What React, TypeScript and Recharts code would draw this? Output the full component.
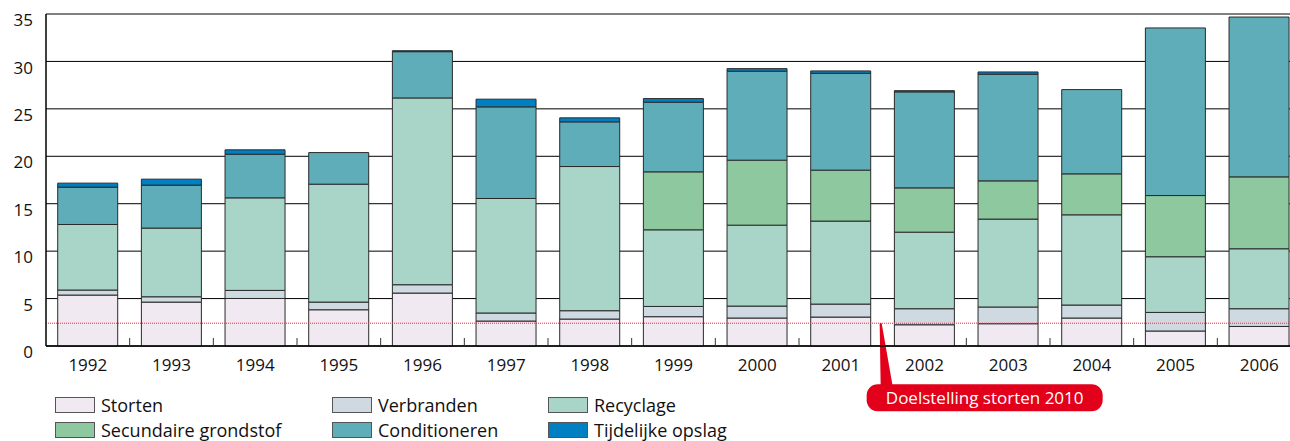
import { BarChart, Bar, XAxis, YAxis, CartesianGrid, ReferenceLine, Legend } from "recharts";

const YEARS = ["1992", "1993", "1994", "1995", "1996", "1997", "1998", "1999", "2000", "2001", "2002", "2003", "2004", "2005", "2006"];
const STORTEN = [5.37, 4.63, 5.01, 3.82, 5.58, 2.63, 2.84, 3.09, 2.95, 3.05, 2.24, 2.35, 2.95, 1.58, 2.06];
const VERBRANDEN = [0.53, 0.56, 0.85, 0.81, 0.88, 0.85, 0.88, 1.08, 1.26, 1.37, 1.69, 1.76, 1.37, 1.96, 1.87];
const RECYCLAGE = [6.91, 7.24, 9.76, 12.43, 19.69, 12.07, 15.2, 8.08, 8.53, 8.75, 8.07, 9.27, 9.51, 5.87, 6.32];
const SECUNDAIRE = [0, 0, 0, 0, 0, 0, 0, 6.11, 6.85, 5.37, 4.67, 4.03, 4.32, 6.45, 7.58];
const CONDITIONEREN = [3.94, 4.53, 4.6, 3.33, 4.88, 9.66, 4.71, 7.34, 9.38, 10.21, 10.12, 11.24, 8.88, 17.67, 16.85];
const TIJDELIJK = [0.42, 0.63, 0.46, 0, 0.1, 0.81, 0.42, 0.38, 0.27, 0.25, 0.13, 0.24, 0, 0, 0];
const Y_TICKS = [0, 5, 10, 15, 20, 25, 30, 35];
const TARGET = 2.4;
const TARGET_LABEL = "Doelstelling storten 2010";
const TARGET_YEAR = "2002";

const SERIES = [
  { key: "storten", name: "Storten", color: "#f0e9f2", values: STORTEN },
  { key: "verbranden", name: "Verbranden", color: "#cfd9e2", values: VERBRANDEN },
  { key: "recyclage", name: "Recyclage", color: "#a8d5c7", values: RECYCLAGE },
  { key: "secundair", name: "Secundaire grondstof", color: "#8ec89f", values: SECUNDAIRE },
  { key: "conditioneren", name: "Conditioneren", color: "#60adba", values: CONDITIONEREN },
  { key: "tijdelijk", name: "Tijdelijke opslag", color: "#0080c3", values: TIJDELIJK },
];

const data = YEARS.map((year, i) => {
  const row: Record<string, string | number> = { year };
  for (const s of SERIES) row[s.key] = s.values[i];
  return row;
});

const FONT = "'Open Sans', sans-serif";
const RED = "#e2001a";
const CHART_W = 1301;
const Y_AXIS_W = 46;
const HALF_BAND = (CHART_W - Y_AXIS_W) / YEARS.length / 2;
const TARGET_INDEX = YEARS.indexOf(TARGET_YEAR);

function XTick(props: any) {
  const { x, y, payload, index } = props;
  return (
    <g>
      <text x={x} y={y + 25} textAnchor="middle" fontSize={17} fill="#111" fontFamily={FONT}>
        {payload.value}
      </text>
      {index > 0 && index !== TARGET_INDEX && (
        <line x1={x - HALF_BAND} x2={x - HALF_BAND} y1={y} y2={y - 8} stroke="#333" strokeWidth={1} />
      )}
    </g>
  );
}

function YTick(props: any) {
  const { x, y, payload } = props;
  return (
    <text x={x} y={y + 6} dy="0.36em" textAnchor="end" fontSize={17} fill="#111" fontFamily={FONT}>
      {payload.value}
    </text>
  );
}

function TargetLabel(props: any) {
  const vb = props.viewBox;
  if (!vb) return null;
  const px = vb.x + HALF_BAND * 2 * TARGET_INDEX - 2;
  const py = vb.y;
  const boxTop = py + 61;
  return (
    <g>
      <polygon points={`${px - 1},${py} ${px + 1},${py} ${px + 12},${boxTop + 2} ${px},${boxTop + 2}`} fill={RED} />
      <rect x={px - 14} y={boxTop} width={236} height={27} rx={11} ry={11} fill={RED} />
      <text x={px + 104} y={boxTop + 19.5} textAnchor="middle" fontSize={17} fill="#fff" fontFamily={FONT}>
        {TARGET_LABEL}
      </text>
    </g>
  );
}

const LEGEND_COLS = [55, 332, 548];

function LegendContent() {
  return (
    <div style={{ position: "relative", width: 800, height: 45, fontFamily: FONT }}>
      {SERIES.map((s, i) => (
        <div
          key={s.key}
          style={{
            position: "absolute",
            left: LEGEND_COLS[i % 3],
            top: Math.floor(i / 3) * 25,
            display: "flex",
            alignItems: "center",
            height: 16,
          }}
        >
          <span
            style={{
              display: "inline-block",
              width: 38,
              height: 14,
              background: s.color,
              border: "1px solid #555",
              marginRight: 6,
            }}
          />
          <span style={{ fontSize: 18, color: "#111", whiteSpace: "nowrap" }}>{s.name}</span>
        </div>
      ))}
    </div>
  );
}

export default function App() {
  return (
    <div style={{ position: "absolute", left: 0, top: 0, width: 1290, height: 441, overflow: "hidden", background: "#fff" }}>
      <BarChart
        width={CHART_W}
        height={441}
        data={data}
        margin={{ top: 14, right: 0, left: 0, bottom: 65 }}
        barCategoryGap="14%"
      >
        <CartesianGrid horizontal vertical={false} stroke="#000" strokeWidth={1} />
        <XAxis
          dataKey="year"
          height={30}
          tickSize={0}
          tickMargin={0}
          tickLine={false}
          axisLine={{ stroke: "#000", strokeWidth: 1.5 }}
          tick={<XTick />}
          interval={0}
        />
        <YAxis
          width={Y_AXIS_W}
          domain={[0, 35]}
          ticks={Y_TICKS}
          tickSize={0}
          tickMargin={13}
          tickLine={false}
          axisLine={{ stroke: "#000", strokeWidth: 1.5 }}
          tick={<YTick />}
        />
        {SERIES.map((s) => (
          <Bar
            key={s.key}
            dataKey={s.key}
            name={s.name}
            stackId="a"
            fill={s.color}
            stroke="#2a2a2a"
            strokeWidth={1}
            isAnimationActive={false}
          />
        ))}
        <ReferenceLine
          y={TARGET}
          stroke="#ee2a3c"
          strokeWidth={1}
          strokeDasharray="1 1"
          label={<TargetLabel />}
        />
        <Legend
          layout="horizontal"
          verticalAlign="middle"
          align="center"
          wrapperStyle={{ left: 0, top: 397, width: 800 }}
          content={<LegendContent />}
        />
      </BarChart>
    </div>
  );
}
